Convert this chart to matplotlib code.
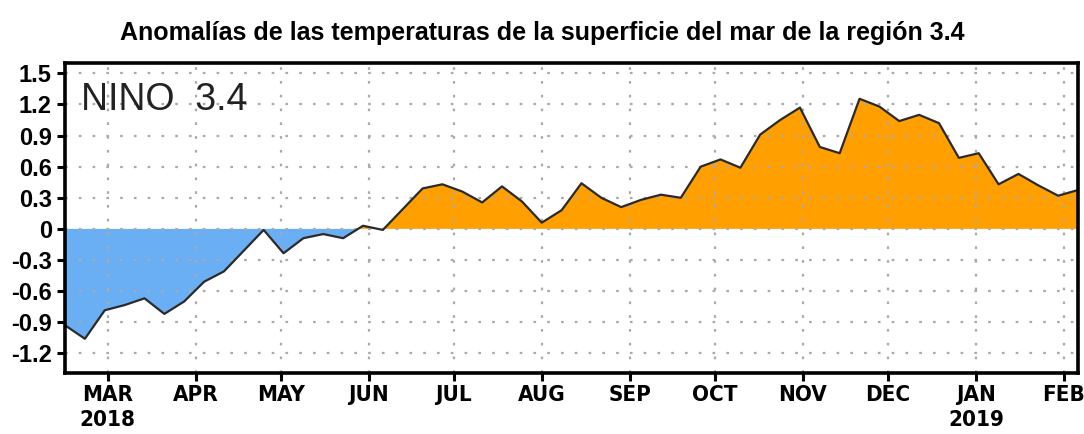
import numpy as np
import pandas as pd
import matplotlib
matplotlib.use('Agg')
from matplotlib import pyplot as plt
from matplotlib import font_manager

# weekly Nino 3.4 SST anomalies (centred on Wednesdays)
start = '2018-02-14'
anom = [-0.93, -1.06, -0.785, -0.735, -0.67, -0.82, -0.70, -0.51, -0.41, -0.21,
        -0.01, -0.235, -0.09, -0.05, -0.09, 0.03, -0.01, 0.19, 0.39, 0.43,
        0.36, 0.255, 0.41, 0.265, 0.06, 0.18, 0.44, 0.30, 0.21, 0.28,
        0.33, 0.30, 0.60, 0.67, 0.59, 0.91, 1.05, 1.17, 0.79, 0.73,
        1.255, 1.18, 1.04, 1.10, 1.02, 0.685, 0.73, 0.43, 0.53, 0.42,
        0.32, 0.375]
yticks = [1.5, 1.2, 0.9, 0.6, 0.3, 0, -0.3, -0.6, -0.9, -1.2]
ytick_labels = ['1.5', '1.2', '0.9', '0.6', '0.3', '0', '-0.3', '-0.6', '-0.9', '-1.2']
month_starts = pd.date_range('2018-03-01', '2019-02-01', freq='MS')
month_labels = ['MAR\n2018', 'APR', 'MAY', 'JUN', 'JUL', 'AUG', 'SEP', 'OCT',
                'NOV', 'DEC', 'JAN\n2019', 'FEB']
title = 'Anomalías de las temperaturas de la superficie del mar de la región 3.4'

dates = pd.date_range(start, periods=len(anom), freq='7D')
y = np.array(anom)

# narrow bold face for the month labels if one is around
names = {f.name for f in font_manager.fontManager.ttflist}
if 'Liberation Sans Narrow' in names:
    month_font = ['Liberation Sans Narrow']
    month_stretch = 'normal'
else:
    month_font = ['DejaVu Sans']
    month_stretch = 'condensed'
sans = ['Liberation Sans', 'DejaVu Sans']

fig = plt.figure(figsize=(10.84, 4.34), dpi=100)
ax = fig.add_axes([0.06, 0.1406, 0.9345, 0.7142])

ax.fill_between(dates, y, 0, where=y >= 0, interpolate=True, color='#FFA000', lw=0)
ax.fill_between(dates, y, 0, where=y <= 0, interpolate=True, color='#6AAEF4', lw=0)
ax.plot(dates, y, color='#2a2a2a', lw=1.6)

ax.set_xlim(dates[0], dates[-1])
ax.set_ylim(-1.39, 1.6)

ax.set_yticks(yticks)
ax.set_yticklabels(ytick_labels, family=sans, fontweight='bold', fontsize=17)
ax.set_xticks(month_starts)
ax.set_xticklabels(month_labels, family=month_font, fontweight='bold', fontsize=16,
                   fontstretch=month_stretch, linespacing=1.35)
ax.tick_params(axis='both', direction='out', length=5.5, width=2.2, color='black')
ax.tick_params(axis='x', pad=3)
ax.tick_params(axis='y', pad=4)

ax.grid(True, color='#aaaaaa', linestyle=(0, (1.2, 5)), linewidth=1.6)
for s in ax.spines.values():
    s.set_linewidth(2.6)
    s.set_zorder(5)

ax.text(0.016, 0.94, 'NINO  3.4', transform=ax.transAxes, ha='left', va='top',
        fontsize=27, family=sans, color='#222222')

fig.text(0.5, 0.925, title, ha='center', va='center', fontsize=18, fontweight='bold',
         family=sans)

fig.savefig('out.png', dpi=100)
